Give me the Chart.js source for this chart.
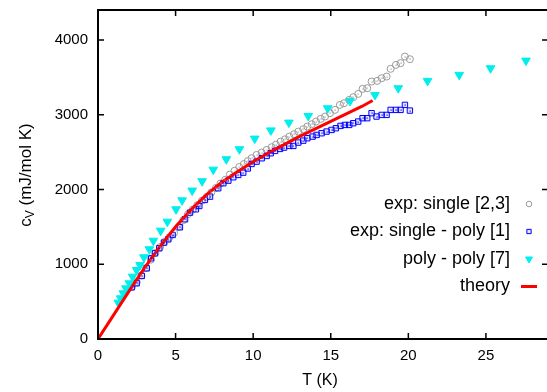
<!DOCTYPE html>
<html>
<head>
<meta charset="utf-8">
<script src="https://cdn.jsdelivr.net/npm/chart.js@4/dist/chart.umd.min.js"></script>
<style>
  html, body { margin: 0; padding: 0; background: #fff; overflow: hidden; }
  canvas { display: block; }
</style>
</head>
<body>
<canvas id="chart" width="560" height="392"></canvas>
<script>
// 比熱データ (T in K, cV in mJ/mol K)
const expSingleT = [2.2, 2.5, 2.8, 3.1, 3.4, 3.7, 4.0, 4.3, 4.6, 4.9, 5.2, 5.5, 5.8, 6.1, 6.4, 6.7, 7.0, 7.3, 7.6, 7.9, 8.2, 8.5, 8.8, 9.1, 9.4, 9.65,
    9.90, 10.22, 10.55, 10.87, 11.19, 11.47, 11.77, 12.05, 12.33, 12.63, 12.91, 13.23, 13.49, 13.77, 14.05, 14.35, 14.63, 14.95,
    15.27, 15.59, 15.85, 16.19, 16.45, 16.77, 17.05, 17.35, 17.63, 17.99, 18.28, 18.60, 18.86, 19.20, 19.50, 19.78, 20.10];
const expSingleC = [700, 760, 850, 950, 1060, 1150, 1230, 1300, 1360, 1420, 1500, 1590, 1670, 1730, 1790, 1850, 1900, 1960, 2020, 2080, 2130, 2200, 2250, 2300, 2340, 2380,
    2418, 2462, 2493, 2529, 2565, 2600, 2640, 2671, 2707, 2739, 2774, 2806, 2841, 2873, 2908, 2944, 2975, 3020,
    3064, 3131, 3153, 3198, 3234, 3278, 3345, 3354, 3443, 3452, 3488, 3510, 3613, 3666, 3689, 3777, 3742];

const singlePolyT = [2.17, 2.49, 2.82, 3.14, 3.42, 3.67, 3.95, 4.25, 4.53, 4.81, 5.28, 5.61, 5.93, 6.31, 6.53, 6.89, 7.22, 7.75, 8.08, 8.40, 8.72, 9.04, 9.36, 9.65,
    9.90, 10.22, 10.55, 10.87, 11.13, 11.41, 11.73, 11.99, 12.33, 12.59, 12.91, 13.23, 13.49, 13.83, 14.09, 14.41, 14.73, 15.05,
    15.33, 15.63, 15.91, 16.19, 16.45, 16.77, 17.05, 17.35, 17.63, 17.95, 18.28, 18.60, 18.86, 19.20, 19.50, 19.78, 20.10];
const singlePolyC = [691, 745, 843, 945, 1079, 1146, 1213, 1289, 1333, 1391, 1494, 1601, 1690, 1735, 1779, 1860, 1904, 2016, 2083, 2118, 2163, 2194, 2225, 2280,
    2341, 2372, 2417, 2448, 2484, 2515, 2542, 2560, 2582, 2582, 2627, 2653, 2685, 2707, 2729, 2752, 2774, 2796,
    2819, 2850, 2863, 2863, 2886, 2908, 2953, 2953, 3020, 2975, 2997, 2997, 3064, 3064, 3064, 3131, 3055];

const polyPolyT = [1.31, 1.46, 1.63, 1.80, 2.02, 2.23, 2.49, 2.71, 2.96, 3.31, 3.57, 4.04, 4.47, 5.03, 5.42, 6.07, 6.71, 7.43, 8.27, 9.11,
    10.1, 11.14, 12.3, 13.55, 14.8, 16.24, 17.85, 19.35, 21.24, 23.28, 25.3, 27.58];
const polyPolyC = [486, 544, 611, 678, 745, 834, 923, 990, 1093, 1200, 1315, 1449, 1569, 1735, 1855, 1985, 2110, 2265, 2404, 2538,
    2680, 2790, 2894, 2983, 3086, 3184, 3264, 3354, 3452, 3532, 3621, 3723];

const theoryT = [0, 1, 2, 3, 4, 5, 6, 7, 8, 9, 10, 11, 12, 13, 14, 15, 16, 17, 17.7];
const theoryC = [0, 320, 640, 950, 1240, 1500, 1730, 1930, 2100, 2240, 2370, 2490, 2600, 2710, 2810, 2910, 3010, 3110, 3190];

const seriesLabels = ['exp: single [2,3]', 'exp: single - poly [1]', 'poly - poly [7]', 'theory'];
const xTicks = [0, 5, 10, 15, 20, 25];
const yTicks = [0, 1000, 2000, 3000, 4000];

const toPoints = function (xs, ys) {
    return xs.map(function (x, i) { return { x: x, y: ys[i] }; });
};

const FONT = 'Liberation Sans, Arial, Helvetica, sans-serif';

// 枠と内向きの目盛り、凡例、軸タイトルを描く
const framePlugin = {
    id: 'frame',
    afterDatasetsDraw: function (chart) {
        const ctx = chart.ctx;
        const a = chart.chartArea;
        const xs = chart.scales.x;
        const ys = chart.scales.y;
        ctx.save();

        // 点の中心のドット
        [0, 1].forEach(function (di) {
            const meta = chart.getDatasetMeta(di);
            ctx.fillStyle = chart.data.datasets[di].borderColor;
            meta.data.forEach(function (el) {
                ctx.fillRect(Math.round(el.x) - 0.5, Math.round(el.y) - 0.5, 1.2, 1.2);
            });
        });

        ctx.strokeStyle = '#000';
        ctx.lineWidth = 2;
        ctx.strokeRect(a.left, a.top, a.right - a.left, a.bottom - a.top);

        ctx.lineWidth = 1.5;
        ctx.beginPath();
        xTicks.forEach(function (v) {
            const px = xs.getPixelForValue(v);
            ctx.moveTo(px, a.bottom); ctx.lineTo(px, a.bottom - 6);
            ctx.moveTo(px, a.top); ctx.lineTo(px, a.top + 6);
        });
        yTicks.forEach(function (v) {
            const py = ys.getPixelForValue(v);
            ctx.moveTo(a.left, py); ctx.lineTo(a.left + 6, py);
            ctx.moveTo(a.right, py); ctx.lineTo(a.right - 6, py);
        });
        ctx.stroke();

        // 凡例
        ctx.font = '18px ' + FONT;
        ctx.fillStyle = '#000';
        ctx.textAlign = 'right';
        ctx.textBaseline = 'middle';
        const rows = [204, 231.5, 259, 286.5];
        chart.data.datasets.forEach(function (ds, i) {
            const y = rows[i];
            ctx.fillStyle = '#000';
            ctx.fillText(seriesLabels[i], 510, y);
            if (ds.showLine) {
                ctx.strokeStyle = ds.borderColor;
                ctx.lineWidth = 3;
                ctx.beginPath();
                ctx.moveTo(521, y); ctx.lineTo(537, y);
                ctx.stroke();
            } else {
                ctx.strokeStyle = ds.borderColor;
                ctx.fillStyle = ds.backgroundColor;
                ctx.lineWidth = 1;
                Chart.helpers.drawPoint(ctx, {
                    pointStyle: ds.pointStyle,
                    radius: ds.pointRadius * 0.8,
                    rotation: ds.rotation || 0,
                    borderWidth: 1
                }, 529, y);
            }
        });

        // 軸タイトル
        ctx.fillStyle = '#000';
        ctx.font = '16px ' + FONT;
        ctx.textAlign = 'center';
        ctx.fillText('T (K)', 320, 381);

        ctx.translate(26, 175);
        ctx.rotate(-Math.PI / 2);
        const big = '17px ' + FONT;
        const small = '12px ' + FONT;
        ctx.font = big;
        const w1 = ctx.measureText('c').width;
        const w3 = ctx.measureText(' (mJ/mol K)').width;
        ctx.font = small;
        const w2 = ctx.measureText('V').width;
        let x0 = -(w1 + w2 + w3) / 2;
        ctx.textAlign = 'left';
        ctx.font = big;
        ctx.fillText('c', x0, 0);
        ctx.font = small;
        ctx.fillText('V', x0 + w1, 5);
        ctx.font = big;
        ctx.fillText(' (mJ/mol K)', x0 + w1 + w2, 0);

        ctx.restore();
    }
};

const plain = function (v) { return String(v); };

const ctx = document.getElementById('chart').getContext('2d');
const chart = new Chart(ctx, {
    type: 'scatter',
    data: {
        datasets: [{
            label: seriesLabels[0],
            data: toPoints(expSingleT, expSingleC),
            pointStyle: 'circle',
            pointRadius: 3.5,
            borderColor: '#999999',
            backgroundColor: 'rgba(255,255,255,0)',
            borderWidth: 1,
            order: 3
        }, {
            label: seriesLabels[1],
            data: toPoints(singlePolyT, singlePolyC),
            pointStyle: 'rect',
            pointRadius: 3.8,
            borderColor: '#0000ff',
            backgroundColor: 'rgba(80,80,255,0.15)',
            borderWidth: 1,
            order: 2
        }, {
            label: seriesLabels[2],
            data: toPoints(polyPolyT, polyPolyC),
            pointStyle: 'triangle',
            rotation: 180,
            pointRadius: 5,
            borderColor: '#00eeee',
            backgroundColor: '#00eeee',
            borderWidth: 1,
            order: 1
        }, {
            label: seriesLabels[3],
            data: toPoints(theoryT, theoryC),
            showLine: true,
            pointRadius: 0,
            borderColor: '#ff0000',
            backgroundColor: '#ff0000',
            borderWidth: 3,
            order: 0
        }]
    },
    options: {
        responsive: false,
        animation: false,
        devicePixelRatio: 1,
        layout: { padding: { top: 10, right: 12, left: 0, bottom: 0 } },
        plugins: { legend: { display: false }, tooltip: { enabled: false } },
        scales: {
            x: {
                type: 'linear',
                min: 0,
                max: 29,
                afterFit: function (s) { s.height = 53; s.paddingLeft = 0; s.paddingRight = 0; },
                afterBuildTicks: function (s) { s.ticks = xTicks.map(function (v) { return { value: v }; }); },
                grid: { display: false, drawTicks: false },
                border: { display: false },
                ticks: { color: '#000', font: { size: 15, family: FONT }, padding: 8, maxRotation: 0, callback: plain }
            },
            y: {
                type: 'linear',
                min: 0,
                max: 4400,
                afterFit: function (s) { s.width = 98; s.paddingTop = 0; s.paddingBottom = 0; },
                afterBuildTicks: function (s) { s.ticks = yTicks.map(function (v) { return { value: v }; }); },
                grid: { display: false, drawTicks: false },
                border: { display: false },
                ticks: { color: '#000', font: { size: 15, family: FONT }, padding: 10, callback: plain }
            }
        }
    },
    plugins: [framePlugin]
});
</script>
</body>
</html>
